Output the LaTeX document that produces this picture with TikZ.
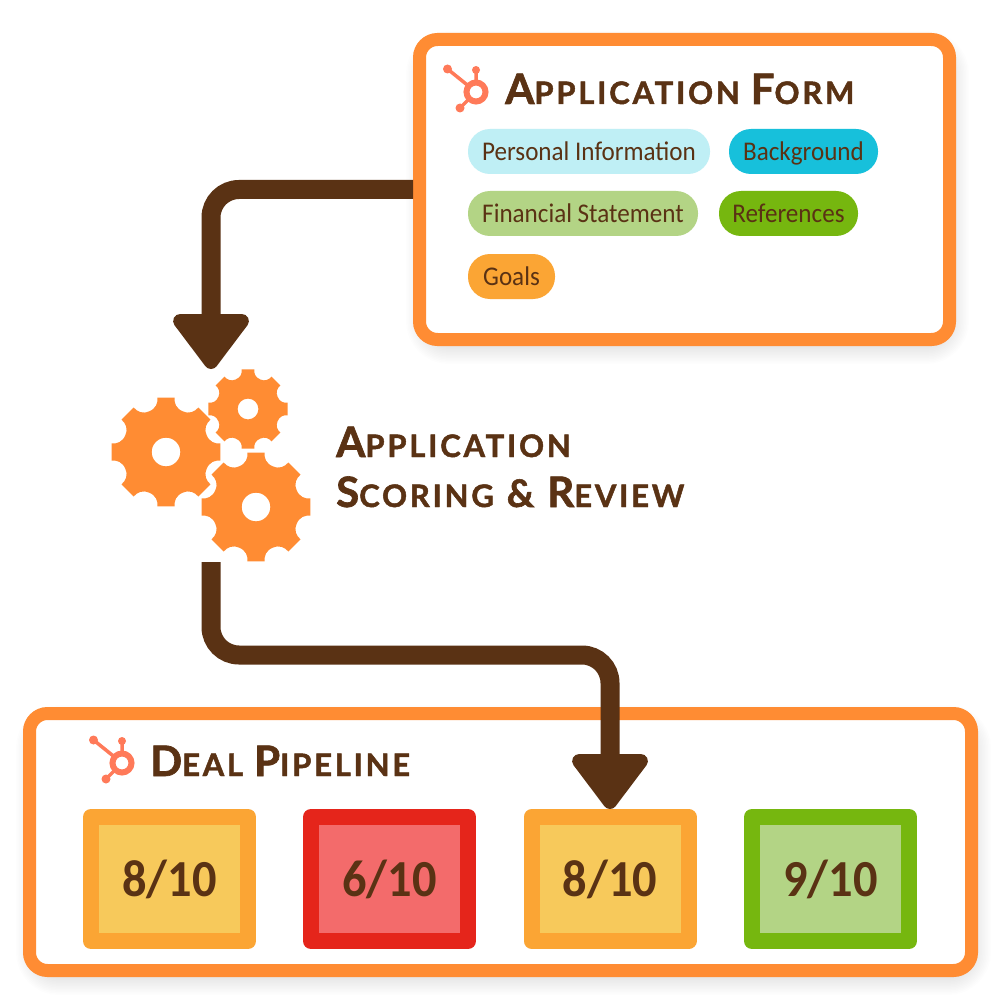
\documentclass[tikz,border=0pt]{standalone}
\usepackage{fontspec}
\setmainfont[FakeStretch=0.93]{Carlito}
\newfontfamily\titlefont[LetterSpace=9, BoldFeatures={FakeBold=1.5}]{Lato}
\usetikzlibrary{arrows.meta}
\definecolor{flowbrown}{HTML}{5A3214}
\definecolor{frameorange}{HTML}{FF8C33}
\definecolor{sprocket}{HTML}{FF7A59}
\definecolor{pillpale}{HTML}{BFEFF5}
\definecolor{pillblue}{HTML}{17C0DB}
\definecolor{sage}{HTML}{B3D485}
\definecolor{leaf}{HTML}{76B70F}
\definecolor{amber}{HTML}{FBA534}
\definecolor{sand}{HTML}{F7C95B}
\definecolor{firered}{HTML}{E5251B}
\definecolor{salmon}{HTML}{F36B6B}
\newcommand{\tcap}[2]{{\fontsize{42}{48}\selectfont #1}{\fontsize{31}{48}\selectfont #2}}
\newcommand{\tgap}{\hspace{11pt}}
\newcommand{\softshadow}[4]{%
  \foreach \w in {2,5,...,38}
    \draw [line width=\w pt, draw=flowbrown, fill=flowbrown, opacity=0.009, rounded corners=24pt]
      (#1pt, -#2pt) rectangle (#3pt, -#4pt);}
\newcommand{\gear}[3]{%
  \begin{scope}[shift={(#1pt, -#2pt)}, x=#3pt, y=#3pt]
  \fill [frameorange, even odd rule] (-9:1)
    \foreach \a in {0,45,...,315} {
      -- (\a+9:1) .. controls (\a+9.5:0.90) and (\a+13:0.81) .. (\a+22.5:0.80)
      .. controls (\a+32:0.81) and (\a+35.5:0.90) .. (\a+36:1)
    } -- cycle (0,0) circle [radius=0.26];
  \end{scope}}
\newcommand{\hublogo}[2]{%
  \begin{scope}[shift={(#1pt, -#2pt)}]
  \draw [sprocket, line width=3.5pt] (-28.5pt, 23pt) -- (0pt, 0pt) (0pt, 22pt) -- (0pt, 0pt) (-16pt, -16pt) -- (0pt, 0pt);
  \fill [sprocket] (-28.5pt, 23pt) circle [radius=4.5pt] (0pt, 22pt) circle [radius=4pt] (-16pt, -16pt) circle [radius=4.5pt];
  \draw [sprocket, fill=white, line width=6pt] (0pt, 0pt) circle [radius=9.5pt];
  \end{scope}}
\tikzset{
  every node/.style={inner sep=0pt},
  framebox/.style={draw=frameorange, fill=white, line width=13pt, rounded corners=18pt},
  pill/.style={minimum height=45pt, rounded corners=22pt, text=flowbrown, text height=21pt, text depth=3pt,
    font=\fontsize{27}{32}\selectfont},
  scorebox/.style={line width=16pt, line join=round, minimum width=157pt, minimum height=124pt,
    text=flowbrown, text height=41pt, text depth=7pt, font=\fontsize{52}{60}\selectfont\bfseries},
  heading/.style={anchor=base west, text=flowbrown, font=\titlefont\bfseries},
  flow/.style={draw=flowbrown, line width=19pt, rounded corners=28pt,
    -{Triangle[width=86pt, length=60pt, round, line width=14pt]}},
}
\begin{document}
\begin{tikzpicture}
\useasboundingbox (0pt, 0pt) rectangle (1000pt, -1000pt);
\fill [white] (0pt, 0pt) rectangle (1000pt, -1000pt);
\softshadow{425}{50}{950}{345}
\softshadow{35}{724}{972}{976}
\node (form) [framebox, minimum width=530pt, minimum height=300pt] at (684.5pt, -189.5pt) {};
\node (pipeline) [framebox, minimum width=942pt, minimum height=257pt] at (500.5pt, -842pt) {};
\hublogo{476}{92}
\hublogo{122}{763}
\node (formtitle) [heading] at (505pt, -104pt) {\tcap{A}{PPLICATION}\tgap\tcap{F}{ORM}};
\node (pipetitle) [heading] at (150pt, -776pt) {\tcap{D}{EAL}\tgap\tcap{P}{IPELINE}};
\node (scoretitle) [heading] at (336pt, -457pt) {\tcap{A}{PPLICATION}};
\node (reviewtitle) [heading] at (336pt, -507pt) {\tcap{S}{CORING}\hspace{13pt}{\fontsize{38}{48}\selectfont\&}\hspace{13pt}\tcap{R}{EVIEW}};
\node (personal) [pill, fill=pillpale, minimum width=242pt] at (589pt, -151.5pt) {Personal Information};
\node (background) [pill, fill=pillblue, minimum width=149pt] at (803.5pt, -151.5pt) {Background};
\node (financial) [pill, fill=sage, minimum width=230pt] at (583pt, -213.5pt) {Financial Statement};
\node (references) [pill, fill=leaf, minimum width=139pt] at (788.5pt, -213.5pt) {References};
\node (goals) [pill, fill=amber, minimum width=87pt] at (511.5pt, -276.5pt) {Goals};
\gear{248}{409}{40}
\gear{166}{452}{55}
\gear{256}{507}{55}
\coordinate (gearin) at (211pt, -369pt);
\coordinate (gearout) at (211pt, -562pt);
\node (score1) [scorebox, draw=amber, fill=sand] at (169.5pt, -879pt) {8/10};
\node (score2) [scorebox, draw=firered, fill=salmon] at (389.5pt, -879pt) {6/10};
\node (score3) [scorebox, draw=amber, fill=sand] at (610pt, -879pt) {8/10};
\node (score4) [scorebox, draw=leaf, fill=sage] at (830.5pt, -879pt) {9/10};
\draw [flow] (form.west) -| (gearin);
\draw [flow] (gearout) |- (400pt, -655pt) -| (score3.north);
\end{tikzpicture}
\end{document}
